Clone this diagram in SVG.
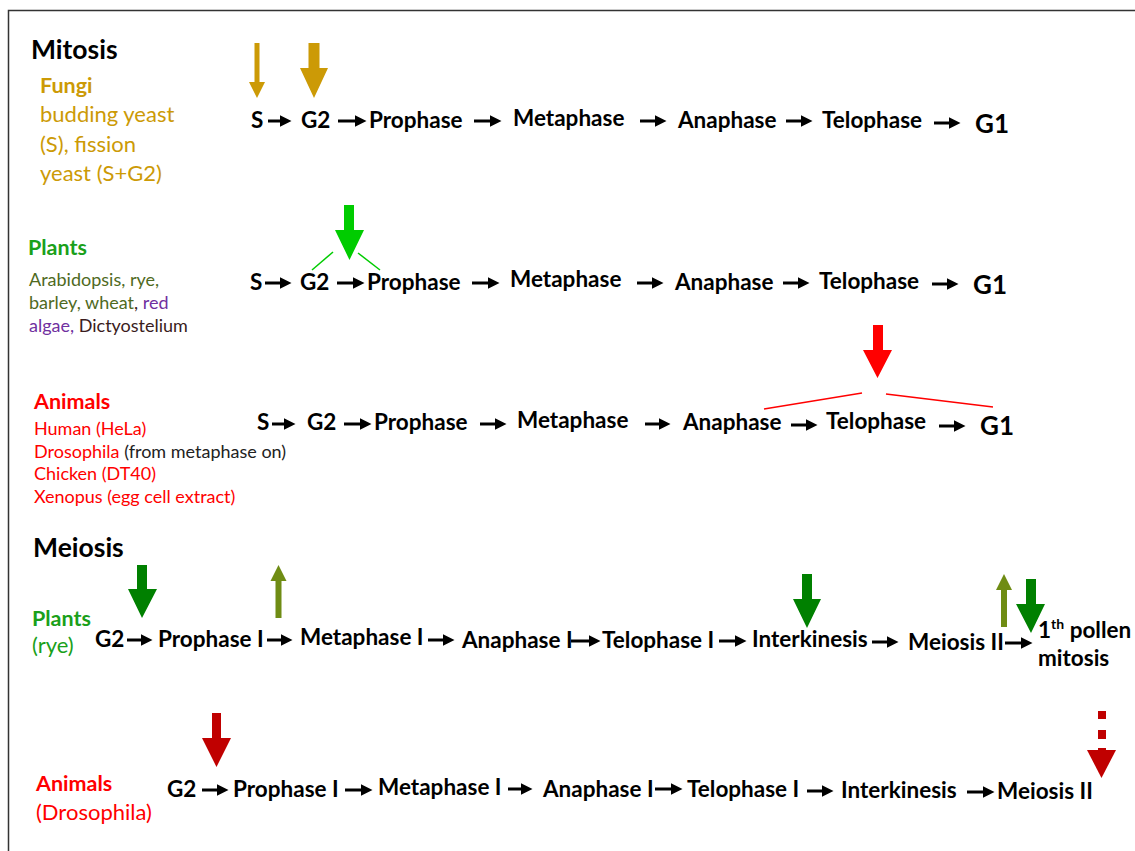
<svg xmlns="http://www.w3.org/2000/svg" width="1135" height="851" viewBox="0 0 1135 851">
<defs>
<marker id="ah" viewBox="0 0 12 12" refX="0.5" refY="6" markerWidth="12" markerHeight="12" markerUnits="userSpaceOnUse" orient="auto">
<path d="M0,0 L12,6 L0,12 Z" fill="#000"/>
</marker>
<style>
text{font-family:Lato,"Liberation Sans",sans-serif;}
.h{font-size:26.5px;font-weight:bold;fill:#000;}
.st{font-size:22.5px;font-weight:bold;fill:#000;}
.g1{font-size:26px;font-weight:bold;fill:#000;}
.grp{font-size:21.5px;font-weight:bold;}
.sp{font-size:22px;}
.sm{font-size:18px;}
.gold{fill:#CC9A06;}
.grn{fill:#1AA01A;}
.olv{fill:#4F6A1E;}
.pur{fill:#7030A0;}
.mar{fill:#3A1C1C;}
.red{fill:#FF0000;}
.blk{fill:#222;}
.conn line{stroke:#000;stroke-width:3;marker-end:url(#ah);}
.frame{fill:none;stroke:#333;stroke-width:1.5;}
</style>
</defs>
<rect class="frame" x="8.5" y="10.5" width="1140" height="860"/>

<!-- Left labels -->
<g id="mitosis-title"><text class="h" x="31" y="59">Mitosis</text></g>
<g id="fungi-label">
<text class="grp gold" x="40" y="93">Fungi</text>
<text class="sp gold" x="40" y="122">budding yeast</text>
<text class="sp gold" x="40" y="152">(S), fission</text>
<text class="sp gold" x="40" y="181">yeast (S+G2)</text>
</g>
<g id="plants-label">
<text class="grp grn" x="28" y="255">Plants</text>
<text class="sm olv" x="29" y="286">Arabidopsis, rye,</text>
<text class="sm" x="29" y="309"><tspan class="olv">barley, wheat</tspan><tspan class="mar">, </tspan><tspan class="pur">red</tspan></text>
<text class="sm" x="29" y="332"><tspan class="pur">algae, </tspan><tspan class="mar">Dictyostelium</tspan></text>
</g>
<g id="animals-label">
<text class="grp red" x="34" y="409">Animals</text>
<text class="sm red" x="34" y="435">Human (HeLa)</text>
<text class="sm" x="34" y="458"><tspan class="red">Drosophila </tspan><tspan class="blk">(from metaphase on)</tspan></text>
<text class="sm red" x="34" y="480">Chicken (DT40)</text>
<text class="sm red" x="34" y="503">Xenopus (egg cell extract)</text>
</g>
<g id="meiosis-title"><text class="h" x="33" y="557">Meiosis</text></g>
<g id="meiosis-plants-label">
<text class="grp grn" x="32" y="626">Plants</text>
<text class="sp grn" x="32" y="653">(rye)</text>
</g>
<g id="meiosis-animals-label">
<text class="grp red" x="36" y="791">Animals</text>
<text class="sp red" x="36" y="820">(Drosophila)</text>
</g>

<!-- Row 1: fungi mitosis -->
<g id="r1-S"><text class="st" x="251" y="128">S</text></g>
<g id="r1-G2"><text class="st" x="301" y="128">G2</text></g>
<g id="r1-Prophase"><text class="st" x="369" y="128">Prophase</text></g>
<g id="r1-Metaphase"><text class="st" x="513" y="126">Metaphase</text></g>
<g id="r1-Anaphase"><text class="st" x="678" y="128">Anaphase</text></g>
<g id="r1-Telophase"><text class="st" x="822" y="128">Telophase</text></g>
<g id="r1-G1"><text class="g1" x="975" y="133">G1</text></g>

<!-- Row 2: plants mitosis -->
<g id="r2-S"><text class="st" x="250" y="290">S</text></g>
<g id="r2-G2"><text class="st" x="300" y="290">G2</text></g>
<g id="r2-Prophase"><text class="st" x="367" y="290">Prophase</text></g>
<g id="r2-Metaphase"><text class="st" x="510" y="287">Metaphase</text></g>
<g id="r2-Anaphase"><text class="st" x="675" y="290">Anaphase</text></g>
<g id="r2-Telophase"><text class="st" x="819" y="289">Telophase</text></g>
<g id="r2-G1"><text class="g1" x="973" y="294">G1</text></g>

<!-- Row 3: animals mitosis -->
<g id="r3-S"><text class="st" x="257" y="430">S</text></g>
<g id="r3-G2"><text class="st" x="307" y="430">G2</text></g>
<g id="r3-Prophase"><text class="st" x="374" y="430">Prophase</text></g>
<g id="r3-Metaphase"><text class="st" x="517" y="428">Metaphase</text></g>
<g id="r3-Anaphase"><text class="st" x="683" y="430">Anaphase</text></g>
<g id="r3-Telophase"><text class="st" x="826" y="429">Telophase</text></g>
<g id="r3-G1"><text class="g1" x="980" y="435">G1</text></g>

<!-- Row 4: plants meiosis -->
<g id="r4-G2"><text class="st" x="95" y="647">G2</text></g>
<g id="r4-ProphaseI"><text class="st" x="158" y="647">Prophase I</text></g>
<g id="r4-MetaphaseI"><text class="st" x="300" y="645">Metaphase I</text></g>
<g id="r4-AnaphaseI"><text class="st" x="462" y="648">Anaphase I</text></g>
<g id="r4-TelophaseI"><text class="st" x="602" y="648">Telophase I</text></g>
<g id="r4-Interkinesis"><text class="st" x="752" y="647">Interkinesis</text></g>
<g id="r4-MeiosisII"><text class="st" x="908" y="650">Meiosis II</text></g>
<g id="r4-pollen">
<text class="st" x="1038" y="638">1<tspan font-size="14" dy="-9">th</tspan><tspan dy="9"> pollen</tspan></text>
<text class="st" x="1038" y="666">mitosis</text>
</g>

<!-- Row 5: animals meiosis -->
<g id="r5-G2"><text class="st" x="167" y="797">G2</text></g>
<g id="r5-ProphaseI"><text class="st" x="233" y="797">Prophase I</text></g>
<g id="r5-MetaphaseI"><text class="st" x="378" y="795">Metaphase I</text></g>
<g id="r5-AnaphaseI"><text class="st" x="543" y="797">Anaphase I</text></g>
<g id="r5-TelophaseI"><text class="st" x="687" y="797">Telophase I</text></g>
<g id="r5-Interkinesis"><text class="st" x="841" y="798">Interkinesis</text></g>
<g id="r5-MeiosisII"><text class="st" x="997" y="799">Meiosis II</text></g>

<!-- Connectors -->
<g id="connectors" class="conn">
<line x1="268" y1="121" x2="280" y2="121"/>
<line x1="338" y1="121" x2="355" y2="121"/>
<line x1="474" y1="121" x2="490" y2="121"/>
<line x1="640" y1="121" x2="655" y2="121"/>
<line x1="786" y1="121" x2="801" y2="121"/>
<line x1="934" y1="123" x2="949" y2="123"/>

<line x1="265" y1="283" x2="280" y2="283"/>
<line x1="337" y1="283" x2="353" y2="283"/>
<line x1="472" y1="283" x2="488" y2="283"/>
<line x1="637" y1="283" x2="652" y2="283"/>
<line x1="783" y1="283" x2="798" y2="283"/>
<line x1="932" y1="284" x2="947" y2="284"/>

<line x1="272" y1="424" x2="284" y2="424"/>
<line x1="344" y1="424" x2="360" y2="424"/>
<line x1="480" y1="424" x2="495" y2="424"/>
<line x1="645" y1="424" x2="659" y2="424"/>
<line x1="791" y1="425" x2="806" y2="425"/>
<line x1="939" y1="426" x2="954" y2="426"/>

<line x1="127" y1="640" x2="141" y2="640"/>
<line x1="267" y1="640" x2="281" y2="640"/>
<line x1="428" y1="640" x2="443" y2="640"/>
<line x1="571" y1="641" x2="589" y2="641"/>
<line x1="719" y1="641" x2="735" y2="641"/>
<line x1="872" y1="642" x2="887" y2="642"/>
<line x1="1005" y1="643" x2="1021" y2="643"/>

<line x1="202" y1="790" x2="217" y2="790"/>
<line x1="345" y1="790" x2="361" y2="790"/>
<line x1="508" y1="789" x2="521" y2="789"/>
<line x1="655" y1="789" x2="671" y2="789"/>
<line x1="807" y1="791" x2="822" y2="791"/>
<line x1="967" y1="792" x2="983" y2="792"/>
</g>

<!-- Indicator arrows -->
<g id="indicators">
<path fill="#CC9A06" d="M254.5,43 H259.5 V82 H265 L257,98 L249,82 H254.5 Z"/>
<path fill="#CC9A06" d="M308.5,43 H319.5 V68 H328 L314,98 L300,68 H308.5 Z"/>
<path fill="#00CC00" d="M344,205 H354 V230 H364 L349.5,260 L335,230 H344 Z"/>
<path fill="#FF0000" d="M873,325 H883 V350 H892 L877.5,378 L863,350 H873 Z"/>
<path fill="#008000" d="M137,565 H147 V589 H157 L142,618 L128,589 H137 Z"/>
<path fill="#6F8C14" d="M275.5,618 H281.5 V581 H286.5 L278.5,565 L270.5,581 H275.5 Z"/>
<path fill="#008000" d="M802,574 H812 V599 H821 L807,628 L793,599 H802 Z"/>
<path fill="#6F8C14" d="M1001,627 H1007 V590 H1012 L1004,574 L996,590 H1001 Z"/>
<path fill="#008000" d="M1026,579 H1036 V604 H1045 L1031,633 L1016,604 H1026 Z"/>
<path fill="#C00000" d="M212,713 H221 V738 H231 L216.5,767 L202,738 H212 Z"/>
<g fill="#C00000">
<rect x="1098" y="711" width="8" height="8"/>
<rect x="1098" y="730" width="8" height="9"/>
<rect x="1098" y="748" width="8" height="3"/>
<path d="M1087,750 H1116 L1101.5,778 Z"/>
</g>
</g>
<g id="bracket-lines" fill="none" stroke-width="1.5">
<line x1="312" y1="270" x2="333" y2="252" stroke="#00CC00"/>
<line x1="358" y1="253" x2="380" y2="270" stroke="#00CC00"/>
<line x1="764" y1="409" x2="862" y2="393" stroke="#FF0000"/>
<line x1="886" y1="394" x2="993" y2="407" stroke="#FF0000"/>
</g>
</svg>
